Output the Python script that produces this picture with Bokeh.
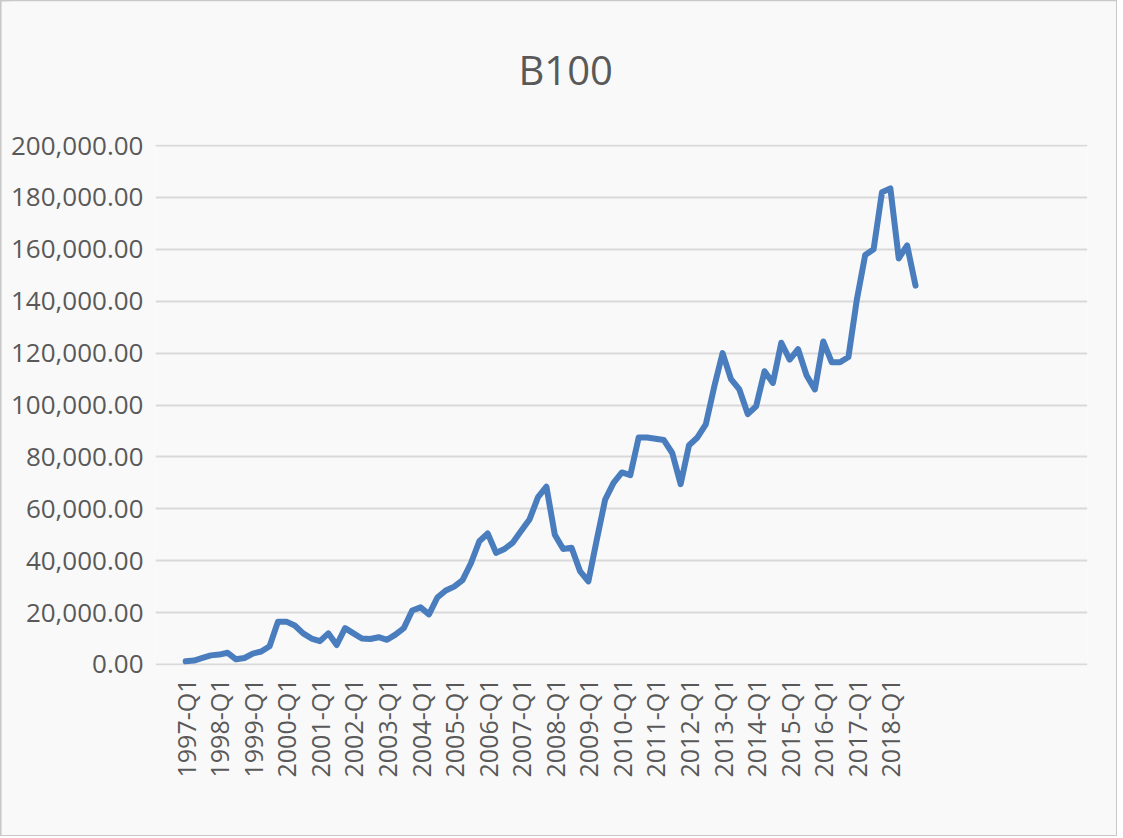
import math
from bokeh.plotting import figure
from bokeh.models import ColumnDataSource, Range1d, FixedTicker, NumeralTickFormatter, Title
from bokeh.layouts import column
from bokeh.embed import file_html
from bokeh.resources import INLINE

years = list(range(1997, 2019))
quarters = [f"{y}-Q{q}" for y in years for q in range(1, 5)]

values = [
    1200, 1500, 2500, 3500, 3800, 4500, 2000, 2500,
    4200, 5000, 7000, 16500, 16500, 15000, 12000, 10000,
    9000, 12000, 7500, 14000, 12000, 10000, 9800, 10500,
    9500, 11500, 14000, 20800, 22000, 19300, 25800, 28500,
    30000, 32500, 39000, 47500, 50500, 43000, 44500, 47000,
    51500, 56000, 64500, 68500, 50000, 44500, 45000, 36000,
    32000, 48000, 63500, 70000, 74000, 73000, 87500, 87500,
    87000, 86500, 81500, 69500, 84500, 87500, 92500, 107000,
    120000, 110000, 106000, 96500, 99500, 113000, 108500, 124000,
    117500, 121500, 111500, 106000, 124500, 116500, 116500, 118500,
    140500, 157800, 160000, 182000, 183500, 156500, 161500, 146000,
]
title_text = "B100"

idx = list(range(len(quarters)))
source = ColumnDataSource(data=dict(x=idx, y=values, q=quarters))

tick_idx = [i for i, q in enumerate(quarters) if q.endswith("Q1")]
tick_labels = {i: quarters[i] for i in tick_idx}

y_ticks = list(range(0, 200001, 20000))

W, H = 1115, 834
p = figure(width=W, height=H, output_backend="svg", toolbar_location=None,
           x_range=Range1d(-3.6, 107.5), y_range=Range1d(-400, 200400))

p.min_border_left = 154
p.min_border_right = 29
p.min_border_top = 143
p.min_border_bottom = 170

bg = "#f9f9f9"
p.background_fill_color = bg
p.border_fill_color = bg
p.outline_line_color = None

main_title = Title(text=title_text, align="left", offset=363,
                   text_font="Open Sans", text_font_size="40px",
                   text_font_style="normal", text_color="#595959")
spacer = Title(text=" ", text_font_size="36px", standoff=0)
p.add_layout(spacer, "above")
p.add_layout(main_title, "above")

p.line("x", "y", source=source, line_color="#4a7dbd", line_width=6,
       line_join="round", line_cap="round")

# y axis
p.yaxis.ticker = FixedTicker(ticks=y_ticks)
p.yaxis.formatter = NumeralTickFormatter(format="0,0.00")
p.yaxis.axis_line_color = None
p.yaxis.major_tick_line_color = None
p.yaxis.minor_tick_line_color = None
p.yaxis.major_tick_out = 0
p.yaxis.minor_tick_out = 0
p.yaxis.major_label_text_font = "Open Sans"
p.yaxis.major_label_text_font_size = "26px"
p.yaxis.major_label_text_color = "#595959"
p.yaxis.major_label_standoff = 12

# x axis
p.xaxis.ticker = FixedTicker(ticks=tick_idx)
p.xaxis.major_label_overrides = tick_labels
p.xaxis.major_label_orientation = math.pi / 2
p.xaxis.axis_line_color = None
p.xaxis.major_tick_line_color = None
p.xaxis.minor_tick_line_color = None
p.xaxis.major_tick_out = 0
p.xaxis.minor_tick_out = 0
p.xaxis.major_label_text_font = "Open Sans"
p.xaxis.major_label_text_font_size = "25px"
p.xaxis.major_label_text_color = "#595959"
p.xaxis.major_label_standoff = 13

p.xgrid.grid_line_color = None
p.ygrid.grid_line_color = "#d9d9d9"
p.ygrid.grid_line_width = 2

layout = column(p, styles={"border": "1px solid #c8c8c8",
                           "box-shadow": "inset 6px 0px 10px #d0d0d0"})

open("out.html", "w").write(file_html(layout, INLINE))
